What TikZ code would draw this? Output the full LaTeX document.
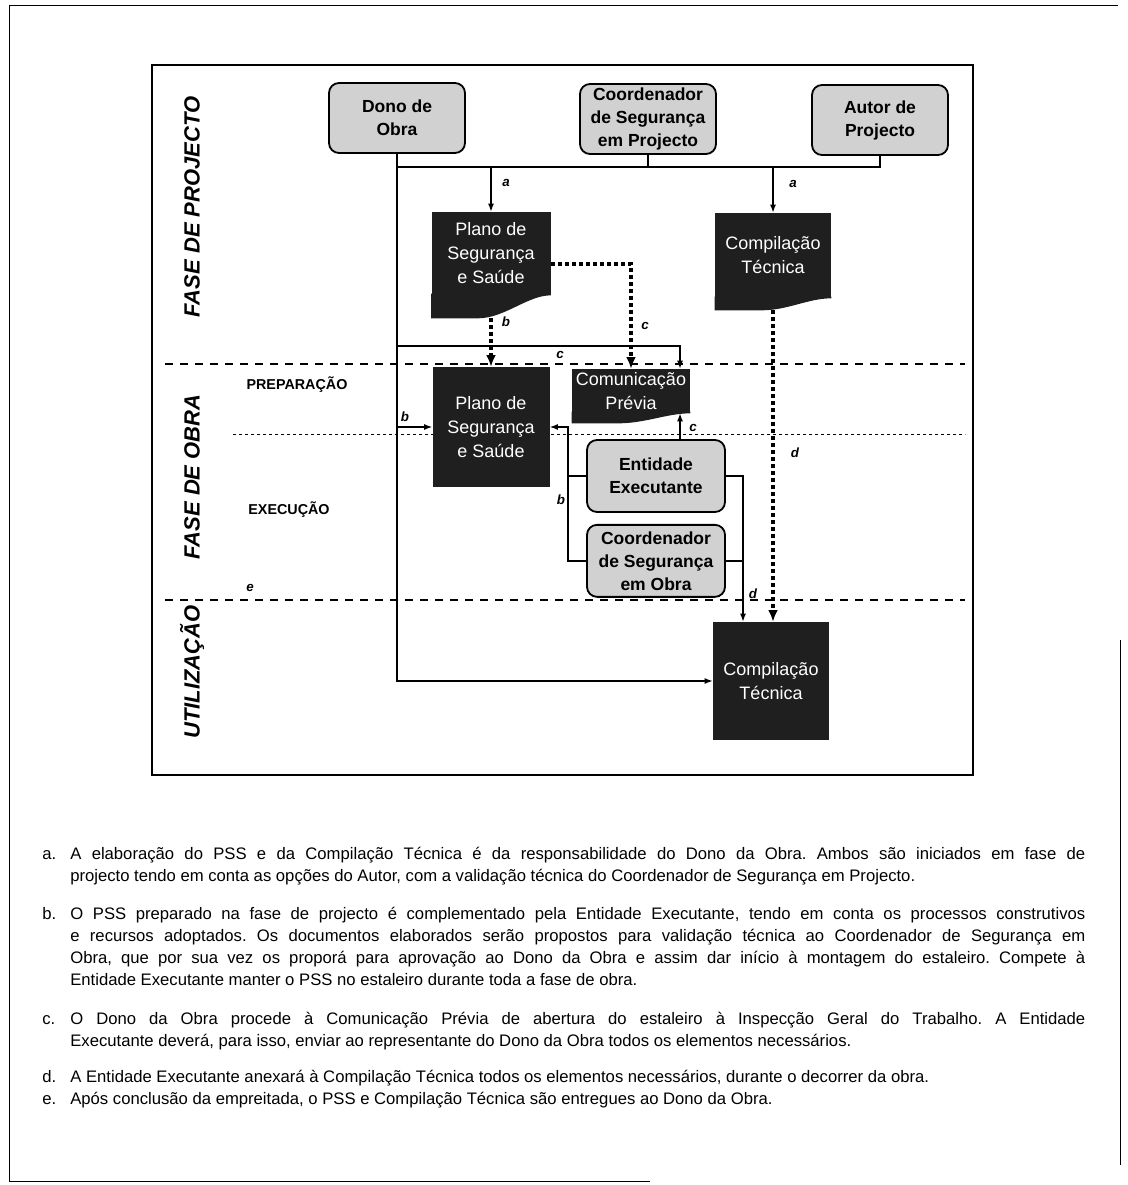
\documentclass[tikz,border=0pt]{standalone}
\usepackage{fontspec}
\setmainfont{Liberation Sans}
\usetikzlibrary{arrows.meta}
\usetikzlibrary{positioning}

\definecolor{docfill}{gray}{0.12}
\definecolor{actorfill}{gray}{0.82}

\begin{document}
\begin{tikzpicture}[x=0.6pt,y=-0.6pt,
  actor/.style={draw,line width=1.1pt,rounded corners=6pt,fill=actorfill,align=center,
    font=\bfseries\fontsize{10.5}{13.8}\selectfont,minimum width=81.6pt,minimum height=42pt,inner sep=1pt},
  doc/.style={fill=docfill,text=white,align=center,font=\fontsize{10.8}{14.4}\selectfont,inner sep=0pt},
  phase/.style={rotate=90,font=\bfseries\itshape\fontsize{13.2}{15}\selectfont},
  stage/.style={font=\bfseries\fontsize{8.6}{10}\selectfont},
  tag/.style={font=\bfseries\itshape\fontsize{8}{9}\selectfont,inner sep=1pt},
  link/.style={line width=0.8pt,-{Latex[length=4.8pt,width=3.6pt]}},
  flow/.style={line width=2.2pt,dash pattern=on 2.2pt off 2pt,-{Latex[length=7pt,width=6pt]}},
  note/.style={anchor=base west,inner sep=0pt,font=\fontsize{10}{13.2}\selectfont\frenchspacing},
  para/.style={note,text width=609pt,align=justify}]
  \useasboundingbox (0,0) rectangle (1127,1185);

  % frames and phase lines
  \draw[line width=0.6pt] (1118,6) -- (9,6) -- (9,1181) -- (650,1181);
  \draw[line width=0.6pt] (1120,640) -- (1120,1165);
  \draw[line width=0.9pt] (152,65) rectangle (973,775);
  \draw[line width=0.7pt,dash pattern=on 4.5pt off 4.5pt] (165,364) -- (965,364) (165,600) -- (965,600);
  \draw[line width=0.5pt,dash pattern=on 1.8pt off 1.8pt] (233,434) -- (965,434);

  \node[phase] (fproj) at (192,207) {FASE DE PROJECTO};
  \node[phase] (fobra) at (192,477) {FASE DE OBRA};
  \node[phase] (futil) at (192,672) {UTILIZAÇÃO};
  \node[stage] (prep) at (297,385) {PREPARAÇÃO};
  \node[stage] (exec) at (289,510) {EXECUÇÃO};

  % actors and documents
  \node[actor] (dono) at (397,118) {Dono de\\Obra};
  \node[actor] (csp) at (648,119) {Coordenador\\de Segurança\\em Projecto};
  \node[actor] (autor) at (880,120) {Autor de\\Projecto};
  \node[doc,minimum width=71.4pt,minimum height=49.8pt] (pss1) at (491,253.5) {Plano de\\Segurança\\e Saúde};
  \node[doc,minimum width=69.6pt,minimum height=51pt] (comp1) at (773,255.5) {Compilação\\Técnica};
  \node[doc,minimum width=70.2pt,minimum height=72pt] (pss2) at (491,427) {Plano de\\Segurança\\e Saúde};
  \node[doc,minimum width=70.8pt,minimum height=26.4pt] (cp) at (631,391) {Comunicação\\Prévia};
  \node[actor,minimum width=82.8pt,minimum height=43.2pt] (ee) at (656,476) {Entidade\\Executante};
  \node[actor,minimum width=82.8pt,minimum height=43.2pt,below=6.6pt of ee] (cso) {Coordenador\\de Segurança\\em Obra};
  \node[doc,minimum width=69.6pt,minimum height=70.8pt] (comp2) at (771,681) {Compilação\\Técnica};

  \foreach \n/\t in {pss1/13.8pt,comp1/7.2pt,cp/6pt}
    \fill[docfill] ([yshift=1pt]\n.south east) -- (\n.south east) .. controls +(-14pt,0pt) and +(16pt,0pt) .. ([xshift=28pt,yshift=-\t]\n.south west)
      -- ([yshift=-\t]\n.south west) -- ([yshift=1pt]\n.south west) -- cycle;

  % connectors
  \coordinate (ja) at (397,167);
  \coordinate (jc) at (397,346);
  \coordinate (jcr) at (680,346);
  \coordinate (jb) at (568,427);
  \coordinate (jd) at (743,476);

  \draw[link,-] (autor.south) |- (ja);
  \draw[link,-] (csp.south) -- (csp.south |- ja);
  \draw[link] (dono.south) |- (comp2.west);
  \draw[link] (pss1.north |- ja) -- (pss1.north);
  \draw[link] (comp1.north |- ja) -- (comp1.north);
  \draw[link] (jc) -- (jcr) -- (cp.north -| jcr);
  \draw[link] (pss2.west -| jc) -- (pss2.west);
  \draw[link] (cso.west) -| (jb) -- (pss2.east);
  \draw[link,-] (ee.west) -- (ee.west -| jb);
  \draw[link] (ee.north -| jcr) -- (cp.south -| jcr);
  \draw[link] (ee.east) -| (comp2.north -| jd);
  \draw[link,-] (cso.east) -- (cso.east -| jd);

  \draw[flow] ([yshift=-13.8pt]pss1.south) -- (pss2.north);
  \draw[flow] ([yshift=-6.3pt]pss1.east) -| (cp.north);
  \draw[flow] ([yshift=-7.2pt]comp1.south) -- (comp2.north -| comp1.south);

  \node[tag] (ta1) at (506,183) {a};
  \node[tag] (ta2) at (793,184) {a};
  \node[tag] (tb1) at (506,322) {b};
  \node[tag] (tc1) at (645,326) {c};
  \node[tag] (tc2) at (560,355) {c};
  \node[tag] (tb2) at (405,417) {b};
  \node[tag] (tc3) at (693,428) {c};
  \node[tag] (tb3) at (561,500) {b};
  \node[tag] (td1) at (795,453) {d};
  \node[tag] (td2) at (753,594) {d};
  \node[tag] (te) at (250,588) {e};

  % notes
  \node[note] (na) at (42,859) {a.};
  \node[para] (pa) at (70,859) {A elaboração do PSS e da Compilação Técnica é da responsabilidade do Dono da Obra. Ambos são iniciados em fase de\linebreak projecto tendo em conta as opções do Autor, com a validação técnica do Coordenador de Segurança em Projecto.};
  \node[note] (nb) at (42,919) {b.};
  \node[para] (pb) at (70,919) {O PSS preparado na fase de projecto é complementado pela Entidade Executante, tendo em conta os processos construtivos\linebreak e recursos adoptados. Os documentos elaborados serão propostos para validação técnica ao Coordenador de Segurança em\linebreak Obra, que por sua vez os proporá para aprovação ao Dono da Obra e assim dar início à montagem do estaleiro. Compete à\linebreak Entidade Executante manter o PSS no estaleiro durante toda a fase de obra.};
  \node[note] (nc) at (42,1024) {c.};
  \node[para] (pc) at (70,1024) {O Dono da Obra procede à Comunicação Prévia de abertura do estaleiro à Inspecção Geral do Trabalho. A Entidade\linebreak Executante deverá, para isso, enviar ao representante do Dono da Obra todos os elementos necessários.};
  \node[note] (nd) at (42,1082) {d.};
  \node[para] (pd) at (70,1082) {A Entidade Executante anexará à Compilação Técnica todos os elementos necessários, durante o decorrer da obra.};
  \node[note] (ne) at (42,1104) {e.};
  \node[para] (pe) at (70,1104) {Após conclusão da empreitada, o PSS e Compilação Técnica são entregues ao Dono da Obra.};
\end{tikzpicture}
\end{document}
